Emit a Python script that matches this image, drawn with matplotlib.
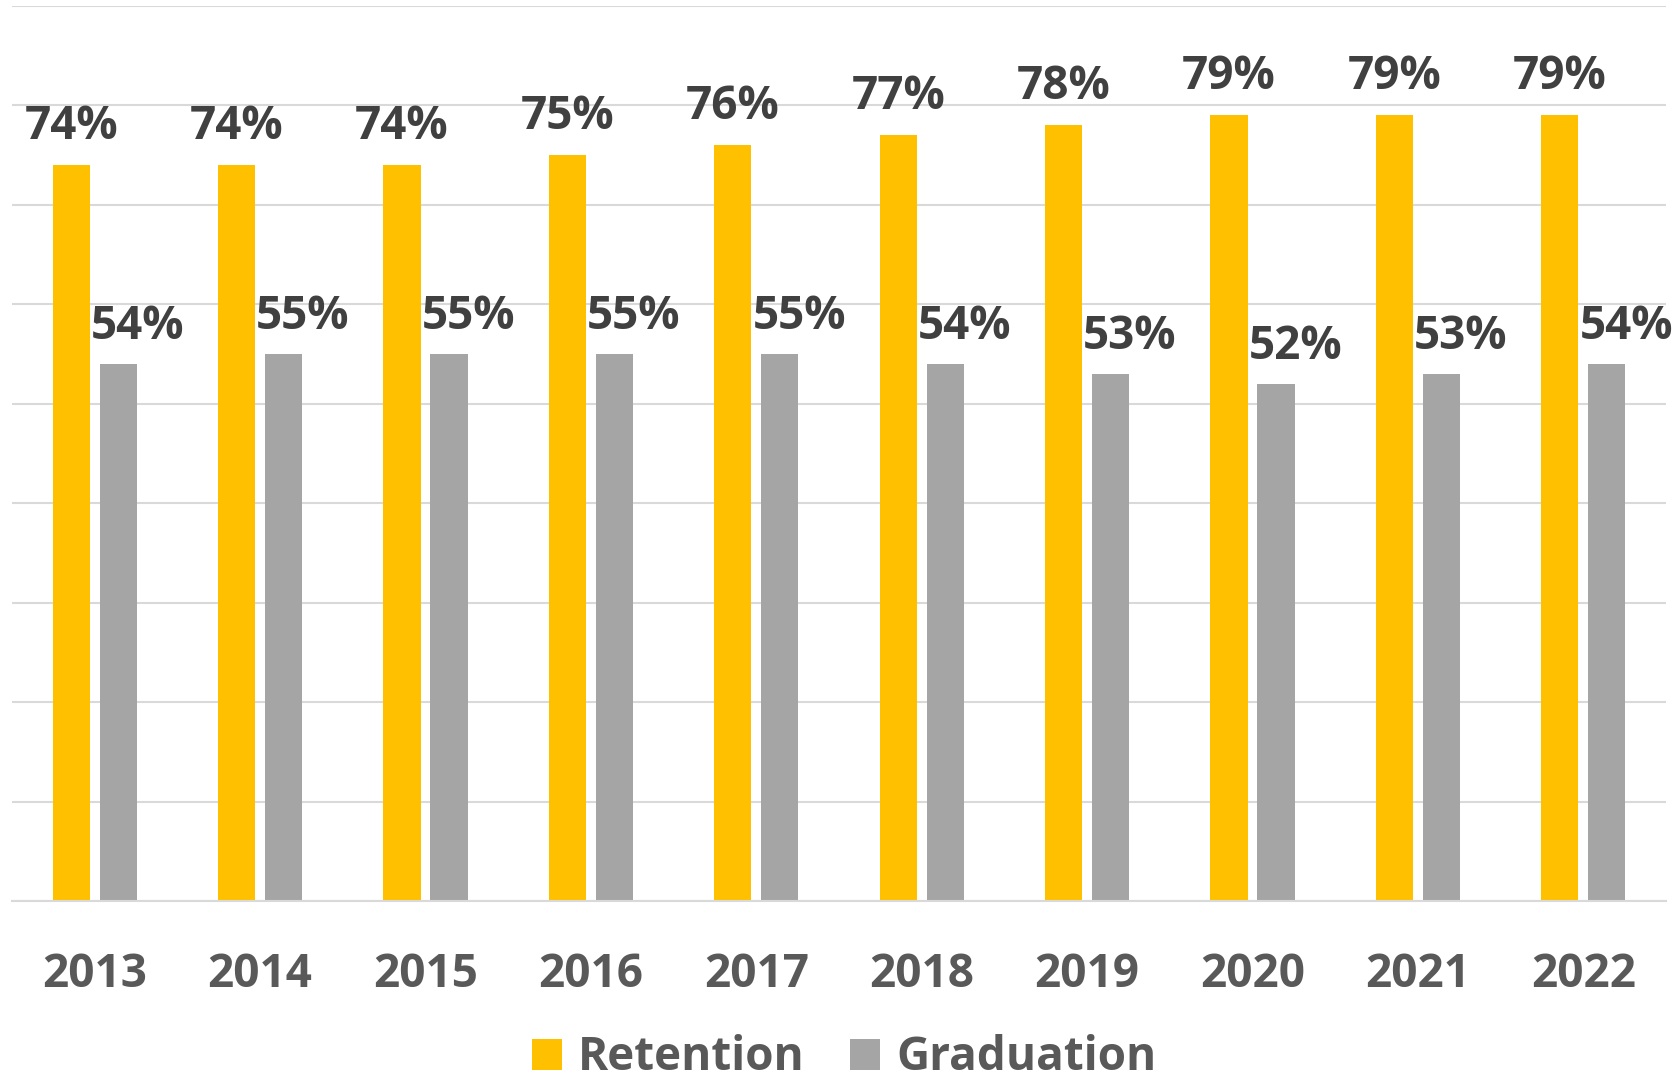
import matplotlib
matplotlib.use("Agg")
import matplotlib.pyplot as plt
import numpy as np

years = ["2013", "2014", "2015", "2016", "2017", "2018", "2019", "2020", "2021", "2022"]
retention = [74, 74, 74, 75, 76, 77, 78, 79, 79, 79]
graduation = [54, 55, 55, 55, 55, 54, 53, 52, 53, 54]

FONT = "Open Sans"
FS = 33
plt.rcParams["font.family"] = [FONT, "DejaVu Sans"]

fig = plt.figure(figsize=(16.8, 10.79), dpi=100)
ax = fig.add_axes([12 / 1680, (1079 - 901) / 1079, (1666 - 12) / 1680, (901 - 6) / 1079])

x = np.arange(len(years))
w = 0.224
off = 0.142
b1 = ax.bar(x - off, retention, w, color="#FFC000", label="Retention", zorder=3)
b2 = ax.bar(x + off, graduation, w, color="#A5A5A5", label="Graduation", zorder=3)

for xi, v in zip(x - off, retention):
    ax.annotate(f"{v}%", (xi, v), xytext=(0, 19), textcoords="offset points",
                ha="center", va="baseline", fontsize=FS, fontweight="bold", color="#404040")
for xi, v in zip(x + off, graduation):
    ax.annotate(f"{v}%", (xi, v), xytext=(14, 18), textcoords="offset points",
                ha="center", va="baseline", fontsize=FS, fontweight="bold", color="#404040")

ax.set_xlim(-0.5, len(years) - 0.5)
ax.set_ylim(0, 90)
ax.set_yticks(np.arange(0, 91, 10))
ax.yaxis.grid(True, color="#D9D9D9", linewidth=1.5, zorder=0)
ax.set_axisbelow(True)
ax.tick_params(axis="y", left=False, labelleft=False)
ax.set_xticks(x)
ax.set_xticklabels(years, fontsize=FS, fontweight="bold", color="#595959")
ax.tick_params(axis="x", length=0, pad=36)
for s in ["top", "right", "left"]:
    ax.spines[s].set_visible(False)
ax.spines["bottom"].set_color("#D9D9D9")
ax.spines["bottom"].set_linewidth(1.5)
ax.spines["bottom"].set_zorder(4)

leg = fig.legend(handles=[b1, b2], labels=["Retention", "Graduation"], loc="center",
                 bbox_to_anchor=(0.5024, 1 - 1058 / 1079), ncol=2, frameon=False,
                 prop={"family": FONT, "size": FS, "weight": "bold"},
                 handlelength=0.65, handleheight=0.65, handletextpad=0.35,
                 columnspacing=1.0, borderpad=0, borderaxespad=0)
for t in leg.get_texts():
    t.set_color("#595959")

fig.savefig("out.png", dpi=100, facecolor="white")
